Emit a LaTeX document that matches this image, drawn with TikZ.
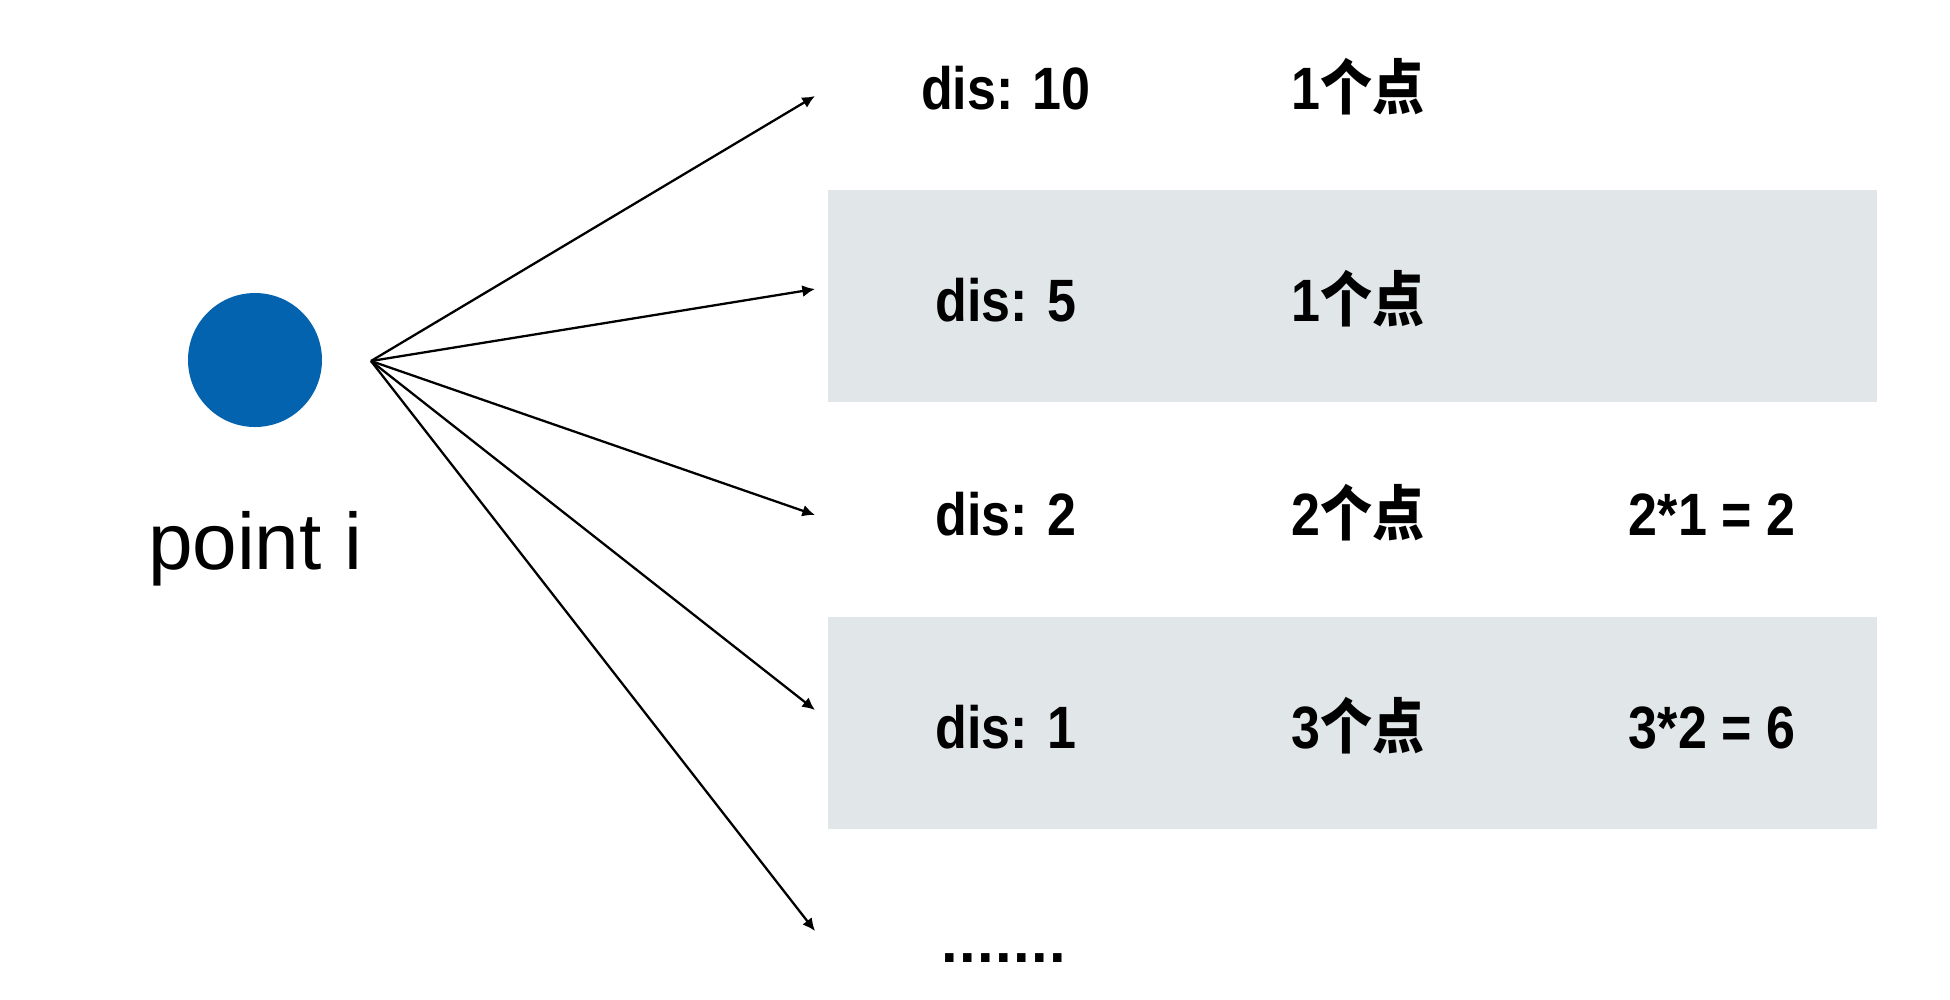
\documentclass[tikz,border=0pt]{standalone}
\usepackage{fontspec}
\usepackage{tikz}
\usetikzlibrary{arrows.meta}
\setmainfont{Liberation Sans}
\newfontfamily\cjk{Noto Sans CJK SC}
\definecolor{dotblue}{RGB}{4,99,174}
\definecolor{rowgray}{RGB}{225,230,232}
\newcommand{\cnt}[1]{#1{\cjk 个点}}

\begin{document}
\begin{tikzpicture}[x=0.01cm,y=-0.01cm]
\tikzstyle{every node}+=[inner sep=0pt]
\tikzstyle{cell}=[anchor=base,font=\fontsize{17}{20}\selectfont\bfseries,xscale=0.87]
\tikzstyle{ray}=[line width=0.65pt,-{Latex[length=3.6pt,width=3.4pt]}]
\useasboundingbox (0,0) rectangle (1950,999);
\fill [rowgray] (828,190) rectangle (1877,402);
\fill [rowgray] (828,617) rectangle (1877,829);
\fill [dotblue] (255,360) circle (67);
\node [anchor=base,font=\fontsize{22.8}{26}\selectfont] (lbl) at (255,569) {point i};
\coordinate (src) at (371,361);
\coordinate (t1) at (815,96);
\coordinate (t2) at (815,289);
\coordinate (t3) at (815,515);
\coordinate (t4) at (815,710);
\coordinate (t5) at (815,931);
\foreach \t in {t1,t2,t3,t4,t5}
  \draw [ray] (src) -- (\t);
\node [cell] (d1) at (1006,109) {dis: 10};
\node [cell] (c1) at (1358,109) {\cnt{1}};
\node [cell] (d2) at (1006,321) {dis: 5};
\node [cell] (c2) at (1358,321) {\cnt{1}};
\node [cell] (d3) at (1006,535) {dis: 2};
\node [cell] (c3) at (1358,535) {\cnt{2}};
\node [cell] (p3) at (1712,535) {2*1 = 2};
\node [cell] (d4) at (1006,748) {dis: 1};
\node [cell] (c4) at (1358,748) {\cnt{3}};
\node [cell] (p4) at (1712,748) {3*2 = 6};
\node [anchor=base,font=\fontsize{17}{20}\selectfont\bfseries] (more) at (1004,962) {.\kern0.4pt.\kern0.4pt.\kern0.4pt.\kern0.4pt.\kern0.4pt.\kern0.4pt.};
\end{tikzpicture}
\end{document}
